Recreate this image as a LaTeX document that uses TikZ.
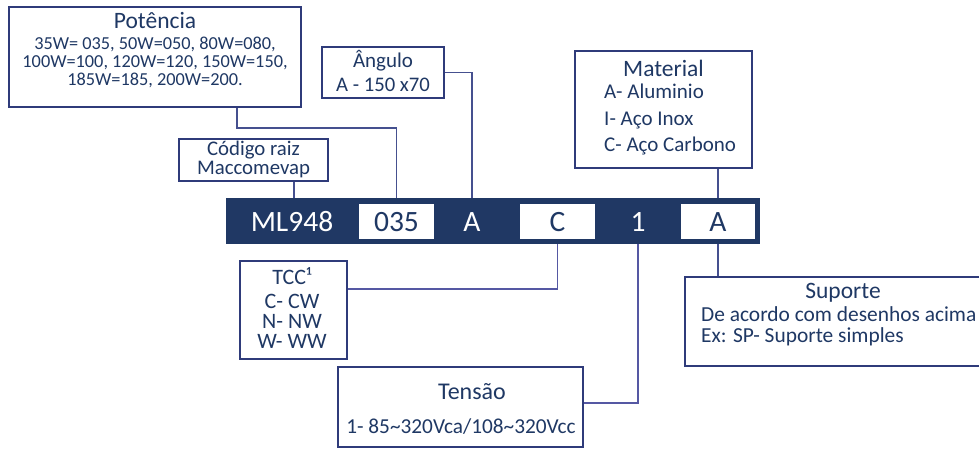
\documentclass[tikz,border=0pt]{standalone}
\usepackage{fontspec}
\setmainfont{Carlito}
\definecolor{navy}{HTML}{203864}
\definecolor{txt}{HTML}{1F3864}
\definecolor{edge}{HTML}{2F3B7A}
\definecolor{wirec}{HTML}{45508F}
\definecolor{wirep}{HTML}{5558A3}
\begin{document}
\begin{tikzpicture}[x=1pt,y=-1pt,
  box/.style={draw=edge,line width=1.3pt,rectangle,inner sep=0pt,fill=white},
  cell/.style={fill=white,rectangle,inner sep=0pt,minimum height=35pt},
  wire/.style={draw=wirec,line width=1.5pt},
  lbl/.style={text=txt,inner sep=0pt,align=center},
  bartxt/.style={inner sep=0pt,font=\fontsize{29.5}{32}\selectfont}]
\clip (0,0) rectangle (979,448);
\fill[white] (0,0) rectangle (979,448);
% boxes
\node[box,minimum width=292pt,minimum height=100pt] (pot) at (155,57) {};
\node[box,minimum width=122pt,minimum height=51pt] (ang) at (383,72.5) {};
\node[box,minimum width=177pt,minimum height=117pt] (mat) at (663.5,109.5) {};
\node[box,minimum width=149pt,minimum height=42pt] (cod) at (253.5,160) {};
\node[box,minimum width=107pt,minimum height=98pt] (tcc) at (293.5,310) {};
\node[box,minimum width=245pt,minimum height=80pt] (ten) at (460.5,407) {};
\node[box,minimum width=305pt,minimum height=89pt] (sup) at (837.5,321.5) {};
% bar
\node[fill=navy,rectangle,inner sep=0pt,minimum width=534pt,minimum height=46pt] (bar) at (493,221) {};
\node[cell,minimum width=75pt] (c035) at (396.5,221.5) {};
\node[cell,minimum width=75pt] (cC) at (557.5,221.5) {};
\node[cell,minimum width=74pt] (cA) at (718,221.5) {};
\node[bartxt,text=white] (tml) at (292,222) {ML948};
\node[bartxt,text=txt] (t035) at (396.5,222) {035};
\node[bartxt,text=white] (tA) at (472,222) {A};
\node[bartxt,text=txt] (tC) at (557.5,222) {C};
\node[bartxt,text=white] (t1) at (638,222) {1};
\node[bartxt,text=txt] (tA2) at (718,222) {A};
% texts
\node[lbl,font=\fontsize{23.5}{26}\selectfont] (potT) at (155,20) {Potência};
\node[lbl,font=\fontsize{18.3}{17.6}\selectfont] (potL) at (155,62.5) {35W= 035, 50W=050, 80W=080,\\100W=100, 120W=120, 150W=150,\\185W=185, 200W=200.};
\node[lbl,font=\fontsize{21}{23}\selectfont] (angT) at (383,61) {Ângulo};
\node[lbl,font=\fontsize{20.7}{23}\selectfont] (angL) at (383,85) {A - 150 x70};
\node[lbl,font=\fontsize{23.5}{26}\selectfont] (matT) at (663.5,68) {Material};
\node[lbl,font=\fontsize{21}{26.5}\selectfont,align=left,anchor=west] (matL) at (604,119.5) {A- Aluminio\\I- Aço Inox\\C- Aço Carbono};
\node[lbl,font=\fontsize{20.8}{19}\selectfont] (codL) at (253.5,159.5) {Código raiz\\Maccomevap};
\node[lbl,font=\fontsize{22}{24}\selectfont] (tccT) at (292,276) {TCC¹};
\node[lbl,font=\fontsize{22}{20}\selectfont] (tccL) at (292,321.5) {C- CW\\N- NW\\W- WW};
\node[lbl,font=\fontsize{23.5}{26}\selectfont] (supT) at (843,293) {Suporte};
\node[lbl,font=\fontsize{21.4}{21}\selectfont,align=left,anchor=west] (supL) at (701,326.5) {De acordo com desenhos acima\\Ex: SP- Suporte simples};
\node[lbl,font=\fontsize{24}{26}\selectfont] (tenT) at (472,392) {Tensão};
\node[lbl,font=\fontsize{21.3}{23}\selectfont] (tenL) at (461,427) {1- 85\textasciitilde 320Vca/108\textasciitilde 320Vcc};
% connectors
\coordinate (p1) at (237,128);
\coordinate (k1) at (294,190);
\coordinate (q1) at (557,289);
\coordinate (r1) at (638,403);
\draw[wire] (p1 |- pot.south) -- (p1) -- (p1 -| c035) -- (c035 |- bar.north);
\draw[wire] (ang.east) -- (ang.east -| tA) -- (tA |- bar.north);
\draw[wire] (k1 |- cod.south) -- (k1 |- bar.north);
\draw[wire] (cA |- mat.south) -- (cA |- bar.north);
\draw[wire,draw=wirep] (cC |- bar.south) -- (cC |- q1) -- (tcc.east |- q1);
\draw[wire,draw=wirep] (t1 |- bar.south) -- (t1 |- r1) -- (ten.east |- r1);
\draw[wire] (cA |- bar.south) -- (cA |- sup.north);
\end{tikzpicture}
\end{document}
